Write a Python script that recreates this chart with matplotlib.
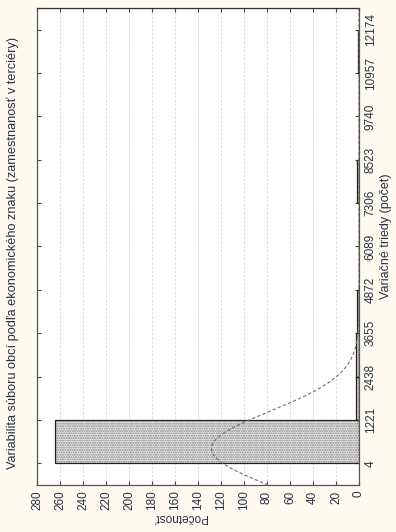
import matplotlib
matplotlib.use('Agg')
import matplotlib.pyplot as plt
import numpy as np

plt.rcParams['font.family'] = ['Liberation Sans', 'DejaVu Sans']

# class edges (počet) and frequencies per class
class_edges = [4, 1221, 2438, 3655, 4872, 6089, 7306, 8523, 9740, 10957, 12174]
counts = [264, 3, 3, 2, 0, 0, 2, 0, 0, 1]
count_ticks = list(range(0, 281, 20))

# fitted normal curve parameters
fit_mean = 420
fit_sd = 1040

title = 'Variabilita súboru obcí podľa ekonomického znaku (zamestnanosť v terciéry)'
class_label = 'Variačné triedy (počet)'
count_label = 'Početnosť'

bg = '#fffaef'
txt = '#26304a'

edges = np.array(class_edges, dtype=float)
binw = edges[1] - edges[0]
n_total = sum(counts)

fig = plt.figure(figsize=(3.96, 5.32), dpi=100, facecolor=bg)
ax = fig.add_axes([37 / 396, 1 - 485 / 532, 322 / 396, 477 / 532])
ax.set_facecolor('white')

# histogram drawn sideways: counts grow to the left, classes grow upward
ax.barh(edges[:-1], counts, height=binw, align='edge', left=0,
        color='#f2f2f2', edgecolor='#7c7c7c', hatch='.' * 7, linewidth=0, zorder=2)
ax.barh(edges[:-1], counts, height=binw, align='edge', left=0,
        fill=False, edgecolor='#222222', linewidth=0.9, zorder=3)

ylo = edges[0] - binw / 2
yhi = edges[-1] + binw / 2
yy = np.linspace(ylo, yhi, 400)
xx = n_total * binw / (fit_sd * np.sqrt(2 * np.pi)) * np.exp(-0.5 * ((yy - fit_mean) / fit_sd) ** 2)
ax.plot(xx, yy, color='#707070', lw=0.8, ls=(0, (3, 2)), zorder=4)

ax.set_xlim(280, 0)
ax.set_ylim(ylo, yhi)

ax.set_xticks(count_ticks)
ax.set_xticklabels([str(t) for t in count_ticks])
ax.set_yticks(edges)
ax.set_yticklabels([str(c) for c in class_edges])

ax.tick_params(axis='x', direction='in', top=True, bottom=True, length=3,
               labelsize=8.5, labelrotation=90, labelcolor=txt, color='#444444', pad=4)
ax.tick_params(axis='y', direction='in', left=True, right=True, length=3,
               labelleft=False, labelright=True, labelsize=8.5, labelrotation=90,
               labelcolor=txt, color='#444444', pad=4)
for lab in ax.get_yticklabels():
    lab.set_va('center')

ax.grid(axis='x', color='#d6d6d6', lw=0.6, ls=(0, (3, 2)), zorder=0)
ax.set_axisbelow(True)

for side, sp in ax.spines.items():
    sp.set_color('#555555')
    sp.set_linewidth(0.9)
ax.spines['top'].set_color('#333333')

fig.text(13 / 396, 1 - 253 / 532, title, rotation=90, ha='center', va='center',
         fontsize=9.2, color=txt)
fig.text(386 / 396, 1 - 236 / 532, class_label, rotation=90, ha='center', va='center',
         fontsize=9, color=txt)
fig.text(180 / 396, 1 - 517 / 532, count_label, rotation=180, ha='center', va='center',
         fontsize=8.5, color=txt)

fig.savefig('out.png', dpi=100, facecolor=bg)
